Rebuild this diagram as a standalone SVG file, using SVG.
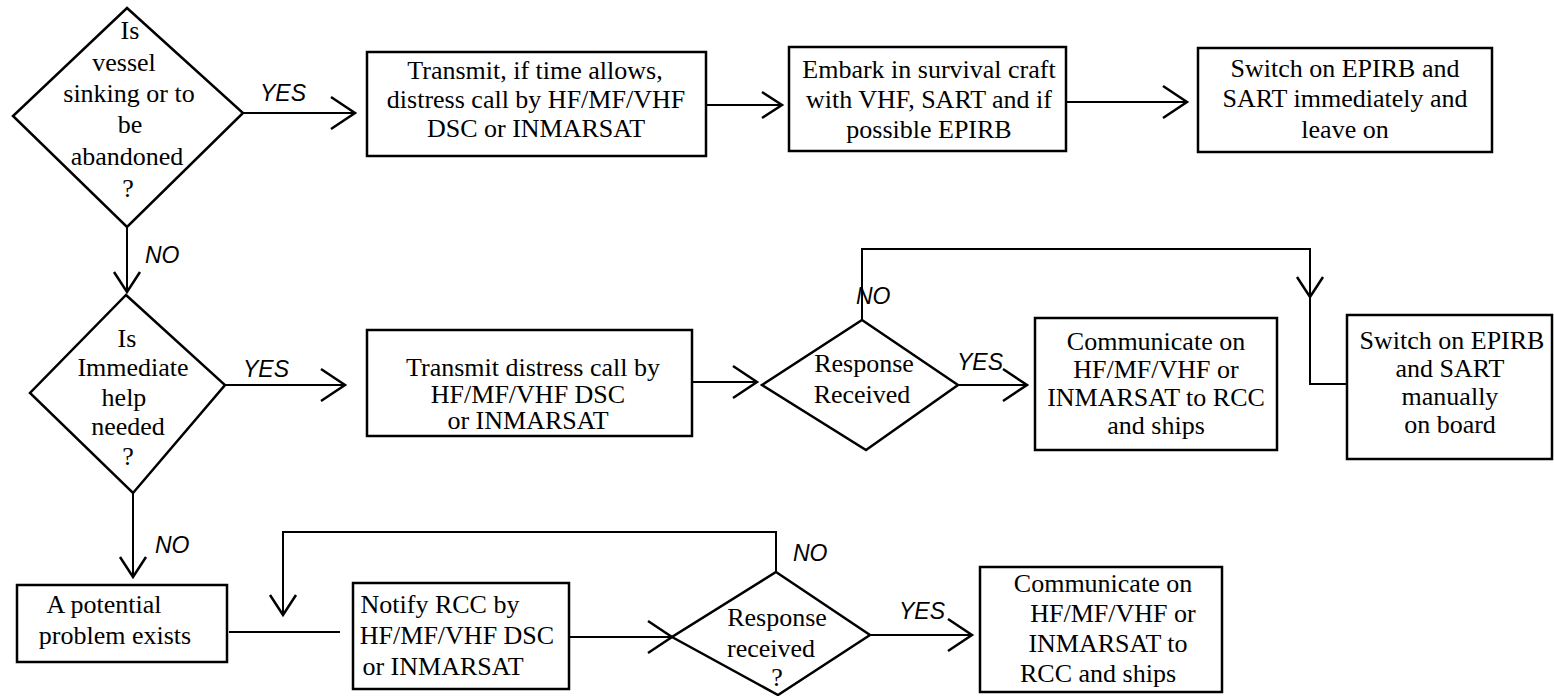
<svg xmlns="http://www.w3.org/2000/svg" width="1554" height="696" viewBox="0 0 1554 696">
<style>
.shape{fill:#fff;stroke:#000;stroke-width:2.5}
.conn{fill:none;stroke:#000;stroke-width:2}
.t{font-family:"Liberation Serif","Times New Roman",serif;font-size:26px;text-anchor:middle;fill:#000}
.lbl{font-family:"Liberation Sans",Arial,sans-serif;font-style:italic;font-size:23px;fill:#000}
</style>
<defs>
<marker id="ah" markerUnits="userSpaceOnUse" markerWidth="30" markerHeight="36" refX="24" refY="16" orient="auto" overflow="visible">
<path d="M0,0 L24,16 L0,32" fill="none" stroke="#000" stroke-width="2.5"/>
</marker>
<marker id="ahs" markerUnits="userSpaceOnUse" markerWidth="24" markerHeight="28" refX="20" refY="13" orient="auto" overflow="visible">
<path d="M0,0 L20,13 L0,26" fill="none" stroke="#000" stroke-width="2.5"/>
</marker>
</defs>

<g id="connectors">
<path class="conn" d="M243,113 H355" marker-end="url(#ah)"/>
<path class="conn" d="M706,105 H782" marker-end="url(#ahs)"/>
<path class="conn" d="M1066,102 H1187" marker-end="url(#ah)"/>
<path class="conn" d="M127,227 V292" marker-end="url(#ahs)"/>
<path class="conn" d="M225,385 H345" marker-end="url(#ah)"/>
<path class="conn" d="M692,382 H757" marker-end="url(#ah)"/>
<path class="conn" d="M958,385 H1027" marker-end="url(#ah)"/>
<path class="conn" d="M862,320 V249 H1310 V297" marker-end="url(#ahs)"/>
<path class="conn" d="M1310,297 V384 H1347"/>
<path class="conn" d="M133,493 V577" marker-end="url(#ahs)"/>
<path class="conn" d="M229,632 H340"/>
<path class="conn" d="M776,572 V532 H283 V615" marker-end="url(#ahs)"/>
<path class="conn" d="M569,637 H672" marker-end="url(#ah)"/>
<path class="conn" d="M870,635 H972" marker-end="url(#ah)"/>
<text class="lbl" x="260" y="101">YES</text>
<text class="lbl" x="145" y="263">NO</text>
<text class="lbl" x="243" y="377">YES</text>
<text class="lbl" x="856" y="304">NO</text>
<text class="lbl" x="957" y="370">YES</text>
<text class="lbl" x="155" y="553">NO</text>
<text class="lbl" x="793" y="561">NO</text>
<text class="lbl" x="899" y="619">YES</text>
</g>

<g id="d1">
<polygon class="shape" points="127,8 243,113 127,227 13,116"/>
<text class="t" x="130" y="39">Is</text>
<text class="t" x="124" y="71">vessel</text>
<text class="t" x="129" y="102">sinking or to</text>
<text class="t" x="130" y="133">be</text>
<text class="t" x="127" y="165">abandoned</text>
<text class="t" x="128" y="197">?</text>
</g>

<g id="b1">
<rect class="shape" x="367" y="52" width="339" height="104"/>
<text class="t" x="535" y="79">Transmit, if time allows,</text>
<text class="t" x="536" y="108">distress call by HF/MF/VHF</text>
<text class="t" x="536" y="137">DSC or INMARSAT</text>
</g>

<g id="b2">
<rect class="shape" x="789" y="47" width="277" height="104"/>
<text class="t" x="929" y="78">Embark in survival craft</text>
<text class="t" x="929" y="108">with VHF,  SART and if</text>
<text class="t" x="929" y="138">possible EPIRB</text>
</g>

<g id="b3">
<rect class="shape" x="1198" y="48" width="294" height="104"/>
<text class="t" x="1345" y="77">Switch on EPIRB and</text>
<text class="t" x="1345" y="107">SART immediately and</text>
<text class="t" x="1345" y="138">leave on</text>
</g>

<g id="d2">
<polygon class="shape" points="126,295 225,385 133,493 30,393"/>
<text class="t" x="127" y="347">Is</text>
<text class="t" x="133" y="376">Immediate</text>
<text class="t" x="124" y="406">help</text>
<text class="t" x="128" y="435">needed</text>
<text class="t" x="128" y="465">?</text>
</g>

<g id="b4">
<rect class="shape" x="367" y="330" width="325" height="106"/>
<text class="t" x="533" y="376">Transmit distress call by</text>
<text class="t" x="528" y="403">HF/MF/VHF DSC</text>
<text class="t" x="528" y="429">or INMARSAT</text>
</g>

<g id="d3">
<polygon class="shape" points="862,320 958,385 866,450 762,385"/>
<text class="t" x="864" y="372">Response</text>
<text class="t" x="862" y="403">Received</text>
</g>

<g id="b5">
<rect class="shape" x="1035" y="318" width="242" height="132"/>
<text class="t" x="1156" y="350">Communicate on</text>
<text class="t" x="1156" y="378">HF/MF/VHF or</text>
<text class="t" x="1156" y="406">INMARSAT to RCC</text>
<text class="t" x="1156" y="434">and ships</text>
</g>

<g id="b6">
<rect class="shape" x="1347" y="315" width="205" height="144"/>
<text class="t" x="1452" y="349">Switch on EPIRB</text>
<text class="t" x="1450" y="377">and SART</text>
<text class="t" x="1450" y="405">manually</text>
<text class="t" x="1450" y="433">on board</text>
</g>

<g id="b7">
<rect class="shape" x="17" y="585" width="210" height="77"/>
<text class="t" x="104" y="613">A potential</text>
<text class="t" x="115" y="644">problem exists</text>
</g>

<g id="b8">
<rect class="shape" x="353" y="583" width="216" height="106"/>
<text class="t" x="440" y="613">Notify RCC by</text>
<text class="t" x="457" y="644">HF/MF/VHF DSC</text>
<text class="t" x="443" y="675">or INMARSAT</text>
</g>

<g id="d4">
<polygon class="shape" points="776,572 870,635 778,695 672,637"/>
<text class="t" x="777" y="626">Response</text>
<text class="t" x="771" y="657">received</text>
<text class="t" x="777" y="686">?</text>
</g>

<g id="b9">
<rect class="shape" x="980" y="567" width="242" height="125"/>
<text class="t" x="1103" y="592">Communicate on</text>
<text class="t" x="1113" y="622">HF/MF/VHF or</text>
<text class="t" x="1108" y="652">INMARSAT to</text>
<text class="t" x="1098" y="682">RCC and  ships</text>
</g>
</svg>
